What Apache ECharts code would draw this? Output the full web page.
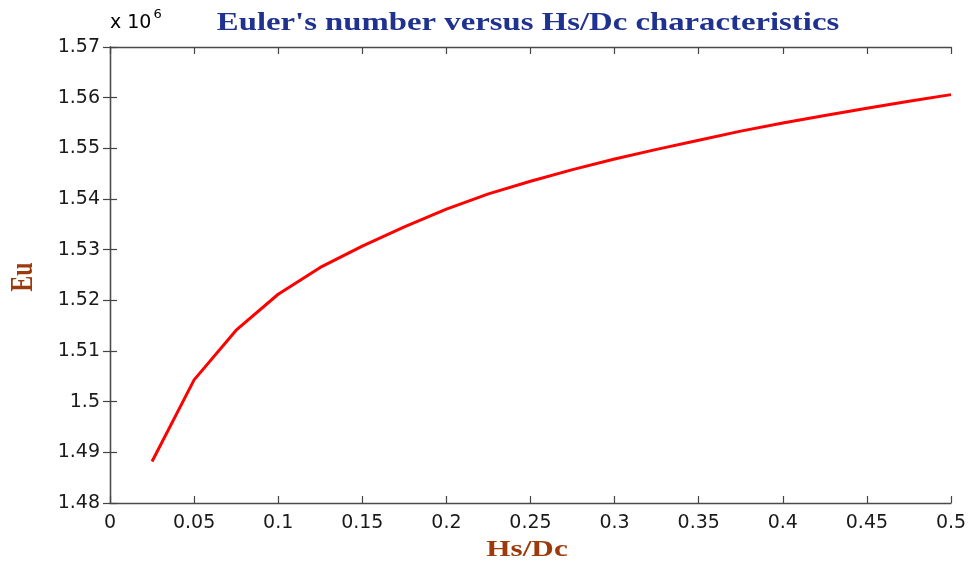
<!DOCTYPE html>
<html>
<head>
<meta charset="utf-8">
<script src="https://cdn.jsdelivr.net/npm/echarts@6/dist/echarts.min.js"></script>
<style>html,body{margin:0;padding:0;background:#fff;}#c{width:971px;height:564px;}</style>
</head>
<body>
<div id="c"></div>
<script>
// Hs/Dc values
var hsdc = [0.025, 0.05, 0.075, 0.1, 0.125, 0.15, 0.175, 0.2, 0.225, 0.25, 0.275, 0.3, 0.325, 0.35, 0.375, 0.4, 0.425, 0.45, 0.475, 0.5];
// Euler number (x 10^6)
var eu = [1.4882, 1.5043, 1.5141, 1.5212, 1.5265, 1.5307, 1.5345, 1.5380, 1.5410, 1.5435, 1.5458, 1.5479, 1.5498, 1.5516, 1.5534, 1.5550, 1.5565, 1.5579, 1.5593, 1.5606];
var xTicks = [0, 0.05, 0.1, 0.15, 0.2, 0.25, 0.3, 0.35, 0.4, 0.45, 0.5];
var yTicks = [1.48, 1.49, 1.5, 1.51, 1.52, 1.53, 1.54, 1.55, 1.56, 1.57];
var titleText = "Euler's number versus Hs/Dc characteristics";
var xName = 'Hs/Dc';
var yName = 'Eu';

var chart = echarts.init(document.getElementById('c'), null, {renderer: 'canvas'});
var SANS = 'DejaVu Sans, Verdana, sans-serif';
var SERIF = 'Liberation Serif, Times New Roman, serif';
function labelFont(m) { return {show: true, margin: m, fontFamily: SANS, fontSize: 19, color: '#1a1a1a', formatter: fmt}; }
function axLine() { return {show: true, lineStyle: {color: '#4a4a4a', width: 1.3}}; }
function tick(c, l) { return {show: true, inside: true, length: l || 7, lineStyle: {color: c || '#444', width: 1.2}}; }
var data = hsdc.map(function (x, i) { return [x, eu[i]]; });
function fmt(v) { return String(parseFloat(Number(v).toFixed(3))); }

chart.setOption({
  backgroundColor: '#fff',
  animation: false,
  graphic: [{
    type: 'text', x: 528, y: 23, scaleX: 1.26,
    style: {text: titleText, align: 'center', verticalAlign: 'middle',
      font: 'bold 26px ' + SERIF, fill: '#1f3290'}
  }, {
    type: 'text', x: 527, y: 550, scaleX: 1.3,
    style: {text: xName, align: 'center', verticalAlign: 'middle',
      font: 'bold 24px ' + SERIF, fill: '#9c3a0c'}
  }, {
    type: 'text', x: 24, y: 277, rotation: Math.PI / 2, scaleY: 1.3,
    style: {text: yName, align: 'center', verticalAlign: 'middle',
      font: 'bold 24px ' + SERIF, fill: '#9c3a0c'}
  }, {
    type: 'text', left: 110, top: 8,
    style: {
      text: '{a|x 10}{b|6}',
      rich: {
        a: {fontFamily: SANS, fontSize: 19, color: '#1a1a1a', padding: [10, 0, 0, 0]},
        b: {fontFamily: SANS, fontSize: 13, color: '#1a1a1a', padding: [0, 0, 8, 2]}
      }
    }
  }],
  grid: {left: 110, right: 20, top: 47, bottom: 61, show: false},
  xAxis: [{
    type: 'value', min: 0, max: 0.5, interval: 0.05, position: 'bottom',
    axisLine: axLine(), axisTick: tick(), splitLine: {show: false},
    axisLabel: labelFont(11)
  }, {
    type: 'value', min: 0, max: 0.5, interval: 0.05, position: 'top',
    axisLine: axLine(), axisTick: tick(), splitLine: {show: false}, axisLabel: {show: false}
  }],
  yAxis: [{
    type: 'value', min: 1.48, max: 1.57, interval: 0.01, position: 'left',
    axisLine: axLine(), axisTick: tick(), splitLine: {show: false},
    axisLabel: labelFont(10)
  }, {
    type: 'value', min: 1.48, max: 1.57, interval: 0.01, position: 'right',
    axisLine: axLine(), axisTick: tick(), splitLine: {show: false}, axisLabel: {show: false}
  }],
  series: [{
    type: 'line', data: data, xAxisIndex: 0, yAxisIndex: 0,
    showSymbol: false, symbol: 'none',
    lineStyle: {color: '#ff0000', width: 3}
  }]
});
</script>
</body>
</html>
